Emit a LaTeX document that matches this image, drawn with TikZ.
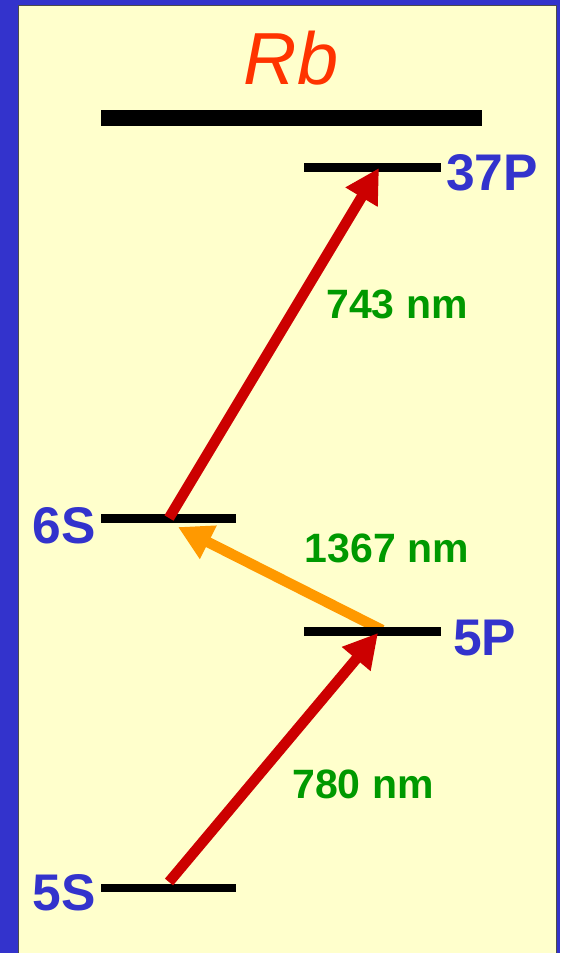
\documentclass[tikz,border=0pt]{standalone}
\usepackage{fontspec}
\setmainfont{Liberation Sans}
\usetikzlibrary{arrows.meta}
\definecolor{frameblue}{HTML}{3333CC}
\definecolor{panel}{HTML}{FFFFCC}
\definecolor{rbred}{HTML}{FF3300}
\definecolor{beamred}{HTML}{CC0000}
\definecolor{beamorange}{HTML}{FF9900}
\definecolor{wavegreen}{HTML}{009900}

\begin{document}
\begin{tikzpicture}[x=0.3mm,y=-0.3mm,
    lvl/.style={line width=7pt},
    state/.style={font=\fontsize{44}{44}\selectfont\bfseries,text=frameblue,inner sep=0pt},
    wave/.style={font=\fontsize{35}{35}\selectfont\bfseries,text=wavegreen,inner sep=0pt},
    beam/.style={line width=9pt,-{Triangle[length=29pt,width=30pt]}}]
  \useasboundingbox (0,0) rectangle (560,953);
  % frame
  \fill[frameblue] (0,0) rectangle (560,953);
  \filldraw[fill=panel,draw=black!70,line width=0.8pt] (18,5) rectangle (556,960);
  \node[font=\fontsize{63}{63}\selectfont\itshape,text=rbred,inner sep=0pt] (rb) at (291,58) {Rb};
  % levels
  \coordinate (ionL) at (101,118);
  \coordinate (ionR) at (482,118);
  \coordinate (p37L) at (304,167.5);
  \coordinate (p37R) at (441,167.5);
  \coordinate (s6L) at (101,518.5);
  \coordinate (s6R) at (236,518.5);
  \coordinate (p5L) at (304,631.5);
  \coordinate (p5R) at (441,631.5);
  \coordinate (s5L) at (101,888);
  \coordinate (s5R) at (236,888);
  % beam ends
  \coordinate (a780) at (169,882);
  \coordinate (b780) at (378,633);
  \coordinate (a1367) at (382,630);
  \coordinate (b1367) at (178,527);
  \coordinate (a743) at (169,518);
  \coordinate (b743) at (379,168);
  \draw[beam,beamorange] (a1367) -- (b1367);
  \draw[line width=13.6pt] (ionL) -- (ionR);
  \draw[lvl] (p37L) -- (p37R);
  \draw[lvl] (s6L) -- (s6R);
  \draw[lvl] (p5L) -- (p5R);
  \draw[lvl] (s5L) -- (s5R);
  \draw[beam,beamred] (a780) -- (b780);
  \draw[beam,beamred] (a743) -- (b743);
  % labels
  \node[state,anchor=west] (l37P) at (446,173) {37P};
  \node[state,anchor=east] (l6S) at (96,526) {6S};
  \node[state,anchor=west] (l5P) at (453,638) {5P};
  \node[state,anchor=east] (l5S) at (96,893) {5S};
  \node[wave] (w743) at (397,304) {743 nm};
  \node[wave] (w1367) at (387,548) {1367 nm};
  \node[wave] (w780) at (363,784) {780 nm};
\end{tikzpicture}
\end{document}
